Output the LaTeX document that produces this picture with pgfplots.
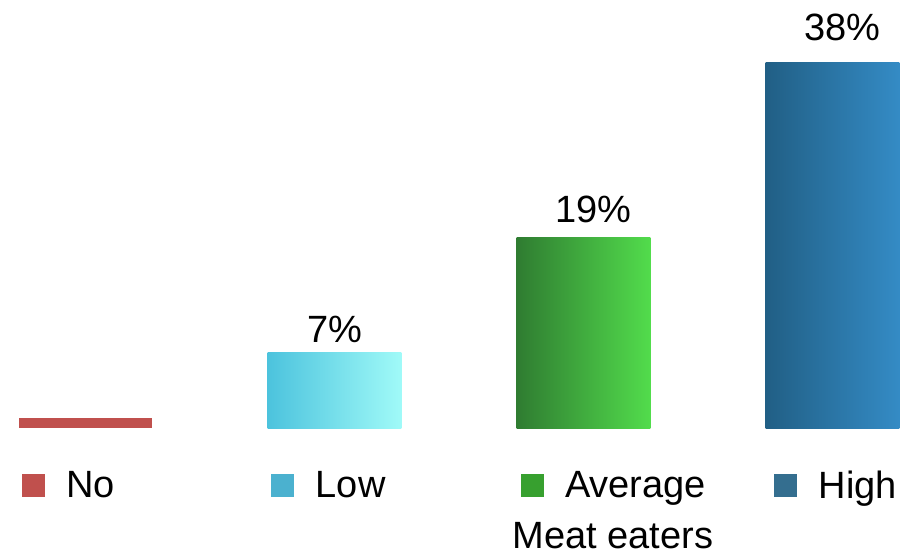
\documentclass[border=0pt]{standalone}
\usepackage{fontspec}
\setmainfont{Liberation Sans}
\usepackage{pgfplots}
\pgfplotsset{compat=1.18}
\definecolor{cNo}{HTML}{C0504D}
\definecolor{cLowL}{HTML}{4CC3DD}
\definecolor{cLowR}{HTML}{A0FAF8}
\definecolor{cAvgL}{HTML}{2F7C31}
\definecolor{cAvgR}{HTML}{52DC4C}
\definecolor{cHighL}{HTML}{215F85}
\definecolor{cHighR}{HTML}{348BC5}
\definecolor{lLow}{HTML}{4BB1CF}
\definecolor{lAvg}{HTML}{37A02F}
\definecolor{lHigh}{HTML}{346E8F}
\newcommand{\bigf}{\fontsize{38bp}{44bp}\selectfont}
\pgfplotsset{sqleg/.style={legend image code/.code={\fill[#1] (0bp,-11bp) rectangle (22bp,11bp);}}}
\begin{document}
\begin{tikzpicture}
\begin{axis}[
  name=ax,
  scale only axis,
  width=902bp, height=428bp,
  xmin=-0.3434, xmax=3.2791,
  ymin=0, ymax=44.44,
  axis line style={draw=none},
  xtick=\empty, ytick=\empty,
  clip=false,
  xlabel={Meat eaters},
  xlabel style={at={(rel axis cs:0.6796,0)}, anchor=base, yshift=-120bp, font=\bigf, inner sep=0pt},
  legend columns=4,
  legend style={draw=none, fill=none, inner sep=0pt, outer sep=0pt,
    font=\bigf, nodes={inner sep=0pt, anchor=west},
    at={(rel axis cs:0,0)}, anchor=north west, xshift=22bp, yshift=-43bp,
    /tikz/every odd column/.style={column sep=22bp}},
]
\addplot[ybar, bar shift=0pt, bar width=0.538, draw=none, fill=cNo, forget plot]
  coordinates {(0,1.04)};
\addplot[ybar, bar shift=0pt, bar width=0.538, draw=none, left color=cLowL, right color=cLowR, forget plot,
  nodes near coords={7\%}, nodes near coords style={anchor=base, inner sep=0pt, yshift=10bp, font=\bigf, text=black}]
  coordinates {(1,7.89)};
\addplot[ybar, bar shift=0pt, bar width=0.538, draw=none, left color=cAvgL, right color=cAvgR, forget plot,
  nodes near coords={19\%}, nodes near coords style={anchor=base, inner sep=0pt, yshift=15bp, xshift=10bp, font=\bigf, text=black}]
  coordinates {(2,19.83)};
\addplot[ybar, bar shift=0pt, bar width=0.538, draw=none, left color=cHighL, right color=cHighR, forget plot,
  nodes near coords={38\%}, nodes near coords style={anchor=base, inner sep=0pt, yshift=22bp, xshift=10bp, font=\bigf, text=black}]
  coordinates {(3,38.0)};
\addlegendimage{sqleg=cNo}
\addlegendentry{\makebox[205bp][l]{No}}
\addlegendimage{sqleg=lLow}
\addlegendentry{\makebox[205bp][l]{Low}}
\addlegendimage{sqleg=lAvg}
\addlegendentry{\makebox[209bp][l]{Average}}
\addlegendimage{sqleg=lHigh}
\addlegendentry{High}
\end{axis}
\path (ax.south west) ++(0,-127bp);
\end{tikzpicture}
\end{document}
